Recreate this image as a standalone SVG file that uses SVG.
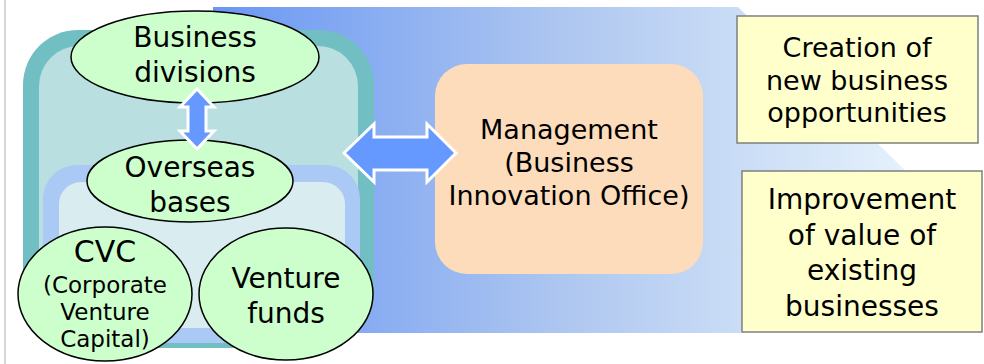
<svg xmlns="http://www.w3.org/2000/svg" width="984" height="364" viewBox="0 0 984 364">
<defs>
<linearGradient id="bg" x1="213" y1="0" x2="915" y2="0" gradientUnits="userSpaceOnUse">
<stop offset="0" stop-color="#6a97f3"/>
<stop offset="0.5" stop-color="#aec7f0"/>
<stop offset="1" stop-color="#e6f2fc"/>
</linearGradient>
<style>
text{font-family:"DejaVu Sans",Verdana,sans-serif;fill:#000;text-anchor:middle}
.ell{fill:#ccffcc;stroke:#000;stroke-width:1.5}
.ybox{fill:#ffffcc;stroke:#7f7f7f;stroke-width:1.5}
.arr{fill:#6699ff;stroke:#fff;stroke-width:3;stroke-linejoin:miter}
</style>
</defs>
<rect width="984" height="364" fill="#fff"/>
<line x1="5" y1="0" x2="5" y2="364" stroke="#c8c8c8" stroke-width="1.5"/>
<polygon points="213,7 738,7 915,180 740,333 213,333" fill="url(#bg)"/>
<g id="scope">
<rect x="23" y="30" width="351" height="318" rx="55" fill="#72bfc3"/>
<rect x="39" y="46" width="319" height="290" rx="40" fill="#b9dfe1"/>
<rect x="43" y="165" width="317" height="178" rx="34" fill="#abc9f5"/>
<rect x="59" y="182" width="286" height="146" rx="22" fill="#d9ecef"/>
</g>
<g id="business-divisions">
<ellipse class="ell" cx="195" cy="57" rx="124" ry="46"/>
<text x="195" y="47" font-size="28">Business</text>
<text x="195" y="82" font-size="28">divisions</text>
</g>
<g id="overseas-bases">
<ellipse class="ell" cx="190" cy="181" rx="103" ry="41"/>
<text x="190" y="177" font-size="28">Overseas</text>
<text x="190" y="212" font-size="28">bases</text>
</g>
<g id="cvc">
<ellipse class="ell" cx="105" cy="294" rx="87" ry="67"/>
<text x="105" y="262" font-size="30">CVC</text>
<text x="105" y="293" font-size="23">(Corporate</text>
<text x="105" y="320" font-size="23">Venture</text>
<text x="105" y="347" font-size="23">Capital)</text>
</g>
<g id="venture-funds">
<ellipse class="ell" cx="286" cy="294" rx="87" ry="66"/>
<text x="286" y="288" font-size="28">Venture</text>
<text x="286" y="323" font-size="28">funds</text>
</g>
<g id="management">
<rect x="435" y="64" width="268" height="210" rx="32" fill="#fddcbc"/>
<text x="569" y="139" font-size="27">Management</text>
<text x="569" y="172" font-size="27">(Business</text>
<text x="569" y="205" font-size="27">Innovation Office)</text>
</g>
<g id="creation">
<rect class="ybox" x="737" y="16" width="241" height="127"/>
<text x="857" y="57" font-size="27">Creation of</text>
<text x="857" y="90" font-size="27">new business</text>
<text x="857" y="122" font-size="27">opportunities</text>
</g>
<g id="improvement">
<rect class="ybox" x="742" y="171" width="240" height="161"/>
<text x="862" y="209" font-size="28">Improvement</text>
<text x="862" y="245" font-size="28">of value of</text>
<text x="862" y="280" font-size="28">existing</text>
<text x="862" y="316" font-size="28">businesses</text>
</g>
<g id="connectors">
<polygon class="arr" points="197,89 214,107 206,107 206,131 214,131 197,149 180,131 188,131 188,107 180,107"/>
<polygon class="arr" points="344,153 374,124 374,137 427,137 427,124 456,153 427,182 427,170 374,170 374,182"/>
</g>
</svg>
